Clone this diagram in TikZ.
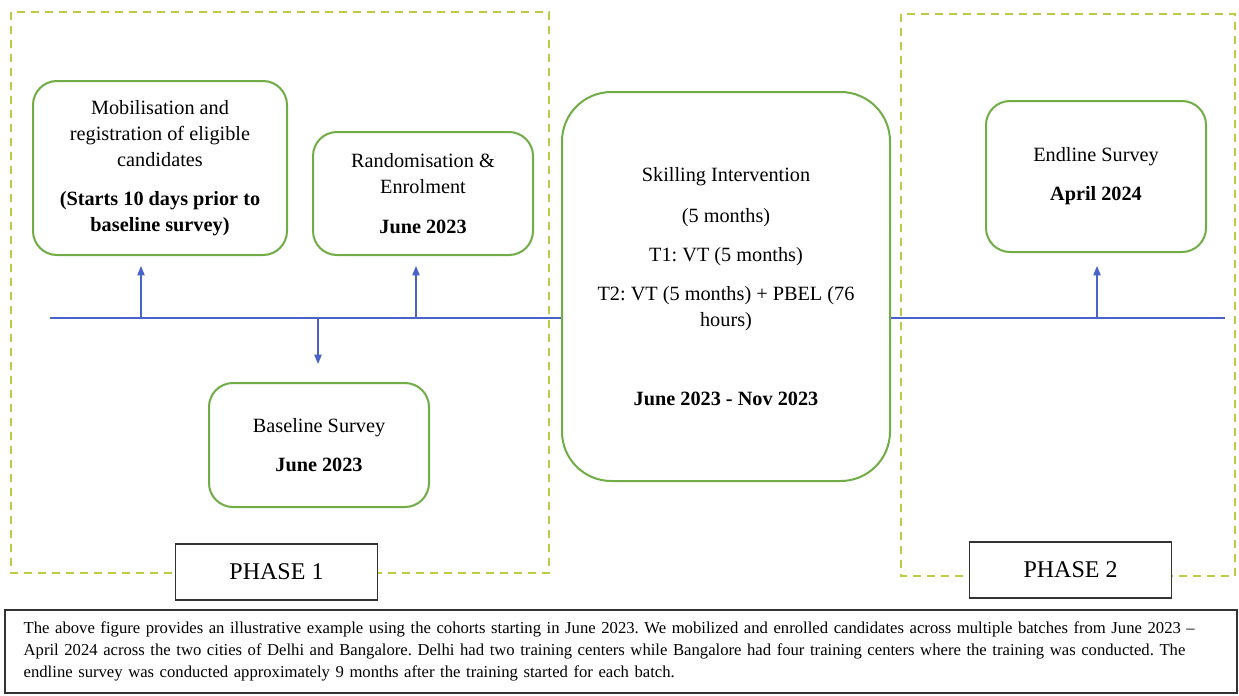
\documentclass[tikz,border=0pt]{standalone}
\usepackage{fontspec}
\setmainfont{Liberation Serif}
\usetikzlibrary{arrows.meta}
\definecolor{boxgreen}{HTML}{70AD47}
\definecolor{phasegreen}{HTML}{BFCB45}
\definecolor{lineblue}{HTML}{4A63C8}
\frenchspacing

\begin{document}
\begin{tikzpicture}[x=0.75pt,y=-0.75pt,>={Triangle[width=5.5pt,length=7pt]},
every node/.style={font=\fontsize{15.2}{19.5}\selectfont},
stage/.style={draw=boxgreen,line width=1.5pt,rounded corners=18pt,fill=white,align=center,inner sep=0pt},
phase/.style={draw=phasegreen,line width=1.2pt,dash pattern=on 6pt off 4.5pt},
tag/.style={draw=black!80,line width=0.8pt,fill=white,minimum width=152pt,minimum height=42pt,inner sep=0pt,font=\fontsize{18}{22}\selectfont},
tick/.style={->,draw=lineblue,line width=0.9pt}]
\useasboundingbox (0,0) rectangle (1239,696);

% phase frames
\draw[phase] (11,12) rectangle (549,573);
\draw[phase] (901,14) rectangle (1235,576);

% timeline points
\coordinate (t0) at (50,318);
\coordinate (t1) at (1225,318);
\coordinate (a1) at (141,318);
\coordinate (a2) at (416,318);
\coordinate (a3) at (318,318);
\coordinate (a4) at (1097,318);

\node[stage,minimum width=190.5pt,minimum height=130.5pt] (M) at (160,168)
{Mobilisation and\\registration of eligible\\candidates\\[9.75pt]
\textbf{(Starts 10 days prior to}\\\textbf{baseline survey)}};
\node[stage,minimum width=165pt,minimum height=92.25pt] (R) at (423,193.5)
{Randomisation \&\\Enrolment\\[10.5pt]\textbf{June 2023}};
\node[stage,minimum width=165pt,minimum height=93pt] (B) at (319,445)
{Baseline Survey\\[9.75pt]\textbf{June 2023}};
\node[stage,rounded corners=37pt,minimum width=246pt,minimum height=291.75pt] (S) at (726,286.5)
{Skilling Intervention\\[11pt](5 months)\\[9.75pt]T1: VT (5 months)\\[9.75pt]
T2: VT (5 months) + PBEL (76\\hours)\\[39.75pt]\textbf{June 2023 - Nov 2023}};
\node[stage,minimum width=165pt,minimum height=113.25pt] (E) at (1096,176.5)
{Endline Survey\\[9.75pt]\textbf{April 2024}};

\node[tag] (P1) at (276.5,572) {PHASE 1};
\node[tag] (P2) at (1070.5,570) {PHASE 2};

\draw[lineblue,line width=0.9pt] (t0) -- (t0 -| S.west);
\draw[lineblue,line width=0.9pt] (t1 -| S.east) -- (t1);
\draw[tick,shorten >=7.5pt] (a1) -- (a1 |- M.south);
\draw[tick,shorten >=7.5pt] (a2) -- (a2 |- R.south);
\draw[tick,shorten >=13.5pt] (a3) -- (a3 |- B.north);
\draw[tick,shorten >=9.75pt] (a4) -- (a4 |- E.south);

\node[draw=black!80,line width=0.8pt,minimum width=924pt,minimum height=62.25pt,
text width=896pt,align=left,inner xsep=14pt,font=\fontsize{12.5}{16.8}\selectfont] (N) at (621,651.5)
{The above figure provides an illustrative example using the cohorts starting in June 2023. We mobilized and enrolled candidates across multiple batches from June 2023 –\\
April 2024 across the two cities of Delhi and Bangalore. Delhi had two training centers while Bangalore had four training centers where the training was conducted. The\\
endline survey was conducted approximately 9 months after the training started for each batch.};
\end{tikzpicture}
\end{document}
